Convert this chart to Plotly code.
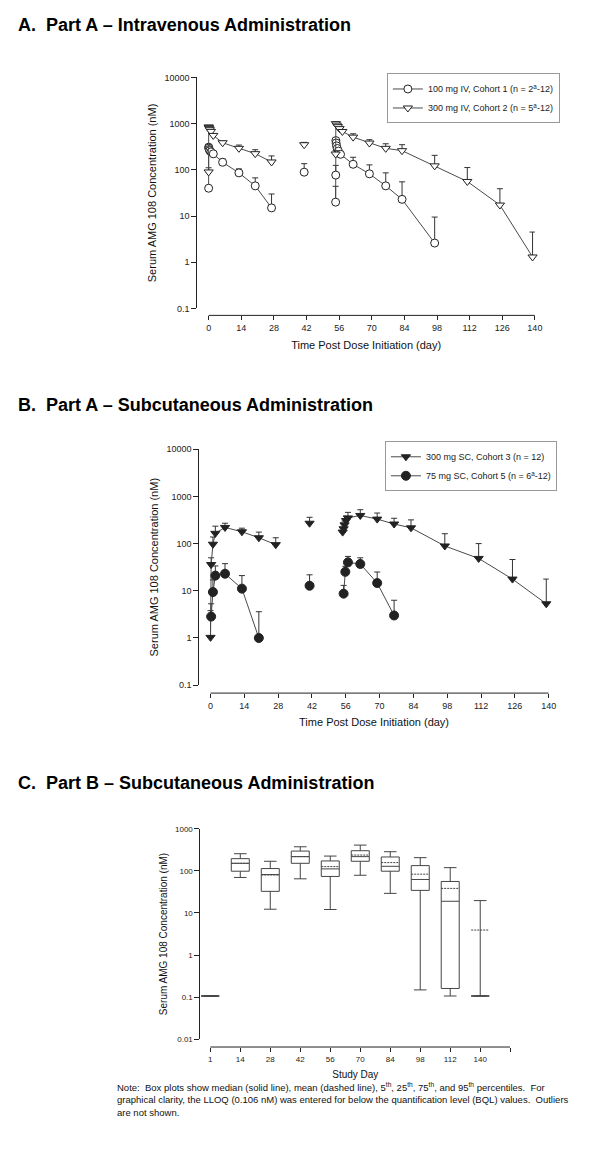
import plotly.graph_objects as go

W, H = 600.0, 1162.0
OFF = 8.0  # page body margin of the html page
FONT = "Liberation Sans, Arial, sans-serif"


def fx(p):
    return (p - OFF) / W


def fy(p):
    return 1 - (p - OFF) / H


# ---------------- Panel A data (IV) ----------------
a_c1_name = "100 mg IV, Cohort 1 (n = 2<sup>a</sup>-12)"
a_c1_day = [0, 0.02, 0.08, 0.25, 0.5, 1, 2, 6, 13, 20, 27, None, 41, None,
            54.5, 54.55, 54.6, 54.7, 54.9, 55.2, 55.7, 56.6, 62, 69, 76, 83, 97]
a_c1_conc = [40, 310, 295, 275, 260, 245, 222, 146, 86, 45, 15, None, 89, None,
             20, 77, 430, 380, 330, 290, 255, 217, 132, 82, 45, 23, 2.6]
a_c1_upper = [None, 350, 330, 310, 295, 280, 250, 172, 105, 67, 30, None, 136, None,
              44, 125, 470, 420, 370, 330, 290, 250, 187, 128, 86, 55, 9.5]

a_c2_name = "300 mg IV, Cohort 2 (n = 5<sup>a</sup>-12)"
a_c2_day = [0, 0.02, 0.08, 0.25, 0.5, 1, 2, 6, 13, 20, 27, None, 41, None,
            54.5, 54.6, 55, 55.5, 56.2, 57.4, 62, 69, 76, 83, 97, 111, 125, 139]
a_c2_conc = [90, 850, 820, 790, 740, 680, 556, 386, 292, 224, 148, None, 350, None,
             220, 1000, 930, 860, 780, 677, 511, 380, 292, 260, 122, 56, 17.3, 1.3]
a_c2_upper = [111, 900, 870, 840, 790, 730, 610, 420, 344, 273, 200, None, 393, None,
              260, 1080, 1000, 930, 840, 740, 603, 449, 367, 350, 206, 112, 39, 4.5]

# ---------------- Panel B data (SC) ----------------
b_c3_name = "300 mg SC, Cohort 3 (n = 12)"
b_c3_day = [0, 0.25, 1, 2, 6, 13, 20, 27, None, 41, None,
            54.7, 55.1, 55.5, 56.1, 56.9, 62, 69, 76, 83, 97, 111, 125, 139]
b_c3_conc = [1.03, 36, 97, 165, 220, 178, 133, 95, None, 270, None,
             175, 206, 250, 308, 350, 395, 330, 260, 216, 89, 48.5, 17.7, 5.3]
b_c3_upper = [3.8, 50, 138, 234, 270, 212, 175, 133, None, 361, None,
              215, 260, 300, 380, 459, 522, 444, 344, 318, 162, 100, 46, 17.7]

b_c5_name = "75 mg SC, Cohort 5 (n = 6<sup>a</sup>-12)"
b_c5_day = [0.25, 1, 2, 6, 13, 20, None, 41, None, 55.1, 55.8, 56.9, 62, 69, 76]
b_c5_conc = [2.84, 9.4, 21, 23, 11.1, 1.0, None, 12.8, None, 8.7, 25.2, 40, 37, 14.6, 3.0]
b_c5_upper = [5.3, 17, 33.6, 37.6, 21, 3.6, None, 21.8, None, 13, 33, 53.5, 50, 25, 6.3]

# ---------------- Panel C data (Part B box plots) ----------------
c_days = ["1", "14", "28", "42", "56", "70", "84", "98", "112", "140"]
c_p5 = [0.106, 70, 12.3, 65, 12.1, 79, 29.3, 0.148, 0.106, 0.106]
c_p25 = [0.106, 98.6, 32.7, 152, 74, 170, 98.6, 34.5, 0.16, 0.106]
c_median = [0.106, 152, 82, 219, 112, 219, 129, 62.7, 19, 0.106]
c_p75 = [0.106, 196, 114, 297, 173, 303, 215, 134, 56.2, 0.106]
c_p95 = [0.106, 257, 170, 376, 226, 412, 287, 207, 120, 19.7]
c_mean = [0.106, 152, 80, 219, 127, 239, 158, 83.8, 38.5, 3.93]

# tick labels
conc_ticks = [0.1, 1, 10, 100, 1000, 10000]
conc_ticktext = ["0.1", "1", "10", "100", "1000", "10000"]
c_ticks = [0.01, 0.1, 1, 10, 100, 1000]
c_ticktext = ["0.01", "0.1", "1", "10", "100", "1000"]
day_ticks = [0, 14, 28, 42, 56, 70, 84, 98, 112, 126, 140]

titles = ["A.  Part A \u2013 Intravenous Administration",
          "B.  Part A \u2013 Subcutaneous Administration",
          "C.  Part B \u2013 Subcutaneous Administration"]
y_title = "Serum AMG 108 Concentration (nM)"
x_title_ab = "Time Post Dose Initiation (day)"
x_title_c = "Study Day"
note_lines = [
    "Note:  Box plots show median (solid line), mean (dashed line), 5<sup>th</sup>, 25<sup>th</sup>, 75<sup>th</sup>, and 95<sup>th</sup> percentiles.  For",
    "graphical clarity, the LLOQ (0.106 nM) was entered for below the quantification level (BQL) values.  Outliers",
    "are not shown.",
]


def err_plus(conc, upper):
    out = []
    for c, u in zip(conc, upper):
        if c is None or u is None:
            out.append(float("nan"))
        else:
            out.append(u - c)
    return out


def err_minus(conc, upper):
    return [0 if (c is not None and u is not None) else float("nan") for c, u in zip(conc, upper)]


LINE_C = "#4a4a4a"
MK_C = "#222222"

fig = go.Figure()


def add_series(x, y, upper, name, symbol, filled, xa, ya, legend, size):
    fig.add_trace(go.Scatter(
        x=x, y=y, name=name, mode="lines+markers", connectgaps=False,
        xaxis=xa, yaxis=ya, legend=legend,
        line=dict(color=LINE_C, width=1),
        marker=dict(symbol=symbol, size=size,
                    color=MK_C if filled else "white",
                    line=dict(color=MK_C, width=1)),
        error_y=dict(type="data", symmetric=False,
                     array=err_plus(y, upper), arrayminus=err_minus(y, upper),
                     color="#333333", thickness=1, width=3),
        cliponaxis=False,
    ))


add_series(a_c1_day, a_c1_conc, a_c1_upper, a_c1_name, "circle", False, "x", "y", "legend", 8)
add_series(a_c2_day, a_c2_conc, a_c2_upper, a_c2_name, "triangle-down", False, "x", "y", "legend", 8)
add_series(b_c3_day, b_c3_conc, b_c3_upper, b_c3_name, "triangle-down", True, "x2", "y2", "legend2", 8)
add_series(b_c5_day, b_c5_conc, b_c5_upper, b_c5_name, "circle", True, "x2", "y2", "legend2", 9)

c_pos = list(range(len(c_days)))
fig.add_trace(go.Box(
    x=c_pos, q1=c_p25, median=c_median, q3=c_p75,
    lowerfence=c_p5, upperfence=c_p95, mean=c_mean,
    boxmean=True, boxpoints=False, width=0.6, whiskerwidth=0.7,
    line=dict(color="#444444", width=1), fillcolor="rgba(255,255,255,0)",
    xaxis="x3", yaxis="y3", showlegend=False, hoverinfo="skip",
))

# ---------------- geometry (screen pixels) ----------------
A = dict(x0=200, x1=542, ytop=73, ybot=306, xaxis_y=313, xmin=-4.8)
B = dict(x0=202, x1=556, ytop=448, ybot=686, xaxis_y=694, xmin=-4.6)
C = dict(x0=203, x1=517, ytop=831, ybot=1043, xaxis_y=1051, xmin=-0.33)

axis_font = dict(family=FONT, size=9, color="#222222")
title_font = dict(family=FONT, size=11, color="#111111")


def xaxis_cfg(g, rng, tickvals, ticktext=None, tfont=axis_font, ttl=None, ttl_font=title_font, standoff=9):
    d = dict(domain=[fx(g["x0"]), fx(g["x1"])], range=rng, anchor="free",
             position=fy(g["xaxis_y"]), showline=False, showgrid=False, zeroline=False,
             ticks="outside", ticklen=4, tickwidth=1, tickcolor="#222222",
             tickvals=tickvals, tickfont=tfont,
             title=dict(text=ttl, font=ttl_font, standoff=standoff))
    if ticktext is not None:
        d["ticktext"] = ticktext
    return d


def yaxis_cfg(g, anchor, rng, tickvals, ticktext, tfont=axis_font, ttl_font=title_font, standoff=5):
    return dict(domain=[fy(g["ybot"]), fy(g["ytop"])], type="log", range=rng, anchor=anchor,
                showline=True, linecolor="#222222", linewidth=1, showgrid=False, zeroline=False,
                ticks="outside", ticklen=5, tickwidth=1, tickcolor="#222222",
                tickvals=tickvals, ticktext=ticktext, tickfont=tfont,
                title=dict(text=y_title, font=ttl_font, standoff=standoff))


fig.update_layout(
    width=600, height=1162, margin=dict(l=0, r=0, t=0, b=0),
    paper_bgcolor="white", plot_bgcolor="white",
    font=dict(family=FONT, color="#222222"),
    xaxis=xaxis_cfg(A, [A["xmin"], 140], day_ticks, ttl=x_title_ab, standoff=9),
    yaxis=yaxis_cfg(A, "x", [-1, 4], conc_ticks, conc_ticktext, standoff=5),
    xaxis2=xaxis_cfg(B, [B["xmin"], 140], day_ticks, ttl=x_title_ab, standoff=8),
    yaxis2=yaxis_cfg(B, "x2", [-1, 4], conc_ticks, conc_ticktext, standoff=5),
    xaxis3=xaxis_cfg(C, [C["xmin"], len(c_days)], c_pos + [len(c_days)], c_days + [""],
                     tfont=dict(family=FONT, size=8, color="#222222"), ttl=x_title_c,
                     ttl_font=dict(family=FONT, size=10, color="#111111"), standoff=8),
    yaxis3=yaxis_cfg(C, "x3", [-2, 3], c_ticks, c_ticktext,
                     tfont=dict(family=FONT, size=8, color="#222222"),
                     ttl_font=dict(family=FONT, size=10, color="#111111"), standoff=5),
    legend=dict(x=fx(392), y=fy(69), xanchor="left", yanchor="top", bgcolor="white",
                bordercolor="#999999", borderwidth=1, font=dict(family=FONT, size=9, color="#222222"),
                tracegroupgap=0),
    legend2=dict(x=fx(390), y=fy(440), xanchor="left", yanchor="top", bgcolor="white",
                 bordercolor="#999999", borderwidth=1, font=dict(family=FONT, size=9, color="#222222"),
                 tracegroupgap=0),
    showlegend=True,
)

# detached x-axis lines (SigmaPlot style)
shapes = []
for g, xr, x1 in [(A, "x", 140), (B, "x2", 140), (C, "x3", len(c_days))]:
    shapes.append(dict(type="line", xref=xr, yref="paper", x0=0, x1=x1,
                       y0=fy(g["xaxis_y"]), y1=fy(g["xaxis_y"]),
                       line=dict(color="#222222", width=1)))
fig.update_layout(shapes=shapes)

annos = []
for t, ypix in zip(titles, [20, 403, 785]):
    annos.append(dict(text="<b>" + t + "</b>", x=fx(16), y=fy(ypix), xref="paper", yref="paper",
                      xanchor="left", yanchor="middle", showarrow=False,
                      font=dict(family=FONT, size=18, color="#000000")))
annos.append(dict(text="<br>".join(note_lines), x=fx(116), y=fy(1083), xref="paper", yref="paper",
                  xanchor="left", yanchor="top", align="left", showarrow=False,
                  font=dict(family=FONT, size=9.5, color="#111111")))
fig.update_layout(annotations=annos)

fig.write_html("out.html")
